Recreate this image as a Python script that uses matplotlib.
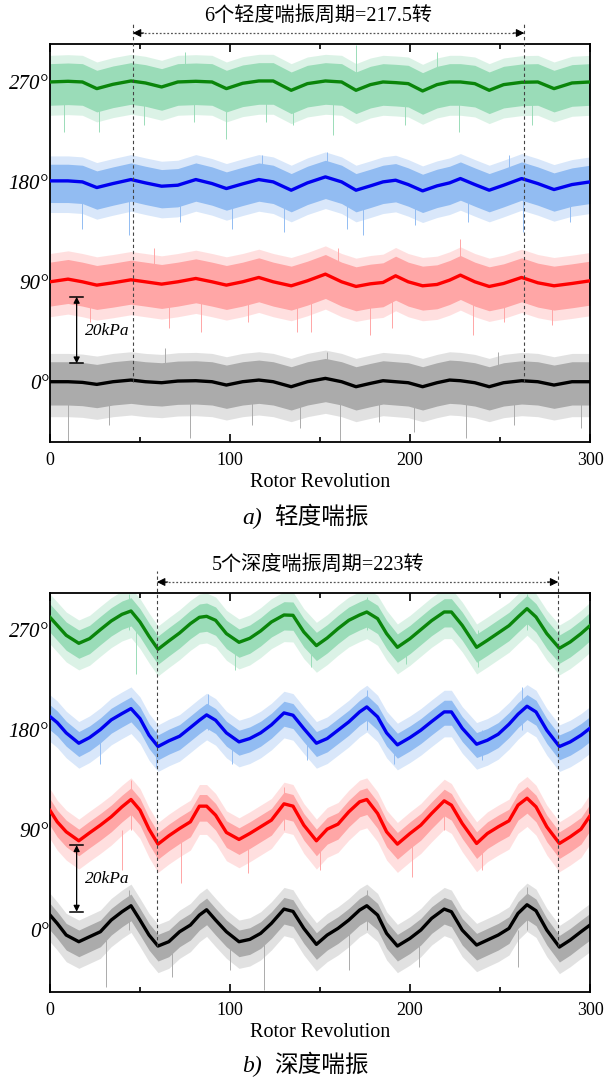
import matplotlib
matplotlib.use("Agg")
import numpy as np
import matplotlib.pyplot as plt

plt.rcParams['font.family'] = ['Liberation Serif', 'Noto Sans CJK SC']

# ---------------- data (kPa, relative to each channel offset) ----------------
labels = ["0°", "90°", "180°", "270°"]
offsets = [0, 30, 60, 90]
line_colors = ["#000000", "#ff0000", "#0000f0", "#0a850a"]
band_colors = ["#ababab", "#ffa6a6", "#92bcf2", "#9adcb8"]

# a) light surge: smoothed traces
a_rev = [0, 10, 18, 26, 35, 45, 53, 62, 71, 81, 90, 98, 107, 116, 124, 134, 143, 153,
         162, 170, 178, 185, 192, 199, 207, 215, 222, 228, 236, 244, 252, 262, 271, 280, 290, 300]
a_black = [0, 0, -0.2, -0.8, 0, 0.5, 0, -0.3, 0.2, 0.3, 0, -1.0, 0, 0.5, 0, -1.5, 0, 1.0,
           0, -1.5, -0.5, 0.3, 0, -0.3, -1.5, -0.3, 0.5, 0.3, -0.3, -1.5, -0.3, 0.3, 0, -1.0, 0, 0]
a_red = [0, 0.8, 0, -1.0, -0.3, 0.6, 0, -0.7, 0, 1.0, 0, -1.0, 0, 1.3, 0, -1.2, 0.3, 2.3,
         0, -1.4, -0.6, -0.2, 1.8, 0, -1.2, -0.8, 0.5, 2.0, 0, -1.4, -0.5, 1.3, -0.3, -1.2, -0.5, 0.3]
a_blue = [0.3, 0.3, 0, -1.7, -0.5, 0.7, -0.3, -1.3, -1.0, 0.7, -0.5, -2.0, -0.6, 0.7, 0, -2.5, -0.3, 1.5,
          0, -2.5, -1.2, 0, 0.5, -0.8, -2.7, -1.2, -0.3, 1.0, -0.8, -2.5, -1.0, 1.0, -0.5, -2.3, -0.8, 0]
a_green = [0, 0.2, 0, -2.0, -0.7, 0.3, -0.3, -1.5, 0, 0.2, 0, -2.0, -0.4, 0.3, 0.3, -2.5, -0.5, 0.3,
           0, -2.5, -0.8, 0, -0.2, -0.5, -2.7, -0.8, 0, 0, -0.5, -2.5, -0.8, -0.1, 0, -2.0, -0.3, 0]
# noise envelope (dense up, dense down, fringe up, fringe down)
a_env = [(6.0, 7.0, 8.5, 10.5), (5.9, 7.3, 8.5, 10.5), (5.0, 6.5, 7.5, 9.5), (5.5, 7.0, 8.0, 10.0)]
# isolated spikes (rev, tip) per channel
a_spikes = [
    [(10, -18), (33, -13), (78, -17), (112, -13), (139, -14), (161, -18), (183, -12), (202, -15),
     (231, -17), (258, -13), (295, -14), (64, 10), (154, 9), (249, 9)],
    [(22, -12), (66, -14), (84, -15), (110, -12), (137, -15), (145, -15), (178, -16), (190, -14),
     (235, -16), (252, -12), (279, -13), (58, 10), (228, 13), (160, 10)],
    [(18, -14), (44, -16), (72, -12), (101, -14), (130, -15), (165, -14), (174, -16), (203, -13),
     (232, -12), (263, -15), (289, -12), (154, 9), (118, 8), (255, 8)],
    [(8, -15), (27, -15), (52, -13), (80, -12), (98, -17), (120, -12), (135, -13), (157, -16),
     (197, -13), (227, -15), (268, -13), (75, 9), (170, 11), (215, 9)],
]
a_marks = [46, 263.5]

# b) deep surge: smoothed traces
b_rev = [0, 4, 9, 16, 22, 28, 34, 40, 45, 50, 55, 60, 66, 72, 78, 83, 87, 92, 98, 105,
         111, 117, 123, 130, 135, 141, 148, 154, 160, 166, 172, 176, 182, 187, 193,
         200, 206, 212, 219, 223, 229, 237, 243, 249, 255, 260, 265, 270, 276, 283, 289, 295, 300]
b_black = [4.5, 2.0, -1.5, -3.5, -2.0, -0.5, 3.0, 5.5, 7.3, 3.0, -1.5, -4.8, -3.5, -0.5, 1.5, 4.5, 6.1, 3.0, -0.5, -3.5,
           -2.8, -1.0, 2.0, 6.3, 5.6, 0.5, -4.3, -1.5, 0.5, 3.0, 6.0, 7.3, 4.5, -1.0, -4.8,
           -2.5, 0, 3.5, 6.3, 5.5, 0, -4.5, -3.0, -1.5, 0.5, 5.0, 7.6, 5.8, 0, -5.1, -3.0, -0.5, 1.5]
b_red = [5.9, 2.5, -0.5, -3.2, -0.8, 1.5, 4.0, 7.0, 9.2, 6.0, 0.3, -4.2, -1.7, 0.5, 2.5, 7.2, 7.2, 4.5, -0.7, -2.8,
         -1.0, 1.0, 3.0, 7.9, 7.2, 1.5, -3.2, 0.3, 1.8, 5.5, 8.5, 9.2, 5.0, -0.5, -4.2,
         -1.0, 1.5, 5.0, 8.8, 7.5, 2.0, -4.0, -1.0, 1.0, 2.8, 7.5, 9.6, 7.0, 1.0, -4.0, -2.0, 0.3, 4.3]
b_blue = [4.1, 2.3, -0.8, -3.9, -2.2, 0.2, 3.1, 5.0, 6.5, 3.5, -1.5, -4.9, -3.2, -1.8, 0.8, 3.0, 4.6, 3.0, -0.8, -3.5,
          -2.5, -0.8, 1.6, 5.2, 4.5, 0.5, -3.9, -2.5, 0, 2.5, 5.5, 7.0, 4.0, -0.8, -4.4,
          -2.2, 0, 2.6, 5.5, 5.5, 0.6, -4.2, -3.0, -1.2, 1.8, 4.8, 7.2, 5.5, 0, -4.9, -3.5, -1.5, 0.6]
b_green = [3.9, 1.5, -1.5, -3.9, -2.5, 0.2, 2.8, 4.8, 5.8, 2.5, -1.8, -5.7, -3.2, -0.8, 2.0, 3.9, 4.2, 3.0, -1.0, -3.6,
           -2.4, -0.2, 2.5, 4.6, 4.5, -0.5, -4.6, -2.3, 0.5, 3.0, 4.6, 5.5, 3.5, -1.0, -5.1,
           -2.5, 0.2, 2.9, 5.5, 5.5, 1.5, -5.1, -3.0, -0.8, 1.4, 4.0, 6.5, 4.0, -1.0, -5.4, -3.5, -1.0, 1.4]
b_env = [(3.5, 4.5, 6.5, 8.0), (3.5, 4.5, 6.5, 8.5), (3.5, 4.0, 6.5, 7.5), (4.0, 4.5, 7.0, 8.0)]
b_spikes = [
    [(31, -17), (68, -14), (100, -12), (119, -18), (166, -12), (205, -11), (260, -11), (44, 12), (176, 12), (265, 13)],
    [(40, -12), (73, -16), (110, -13), (150, -12), (201, -14), (240, -12), (45, 15), (130, 13), (219, 12)],
    [(28, -10), (59, -11), (101, -10), (143, -9), (191, -10), (240, -9), (88, 11), (176, 12), (262, 13)],
    [(48, -13), (103, -12), (145, -11), (198, -10), (238, -11), (283, -10), (44, 11), (176, 10), (265, 11)],
]
b_marks = [59.4, 282.4]

xticks_major = [0, 100, 200, 300]
xticks_minor = [50, 150, 250]


def draw_panel(ax, rev, traces, env, spikes, marks, ylim, mark_bottom, note):
    rev = np.asarray(rev)
    for i, tr in enumerate(traces):
        y = np.asarray(tr) + offsets[i]
        du, dd, fu, fd = env[i]
        ax.fill_between(rev, y - fd, y + fu, color=band_colors[i], alpha=0.35, lw=0, zorder=1)
        ax.fill_between(rev, y - dd, y + du, color=band_colors[i], lw=0, zorder=2)
        for sx, sy in spikes[i]:
            ax.vlines(sx, offsets[i], offsets[i] + sy, color=band_colors[i], lw=0.7, zorder=1)
        ax.plot(rev, y, color=line_colors[i], lw=2.4, zorder=4)

    ax.set_xlim(0, 300)
    ax.set_ylim(*ylim)
    ax.set_xticks(xticks_major)
    ax.set_xticks(xticks_minor, minor=True)
    ax.set_yticks(offsets)
    ax.set_yticklabels(labels, fontstyle='italic', fontsize=15)
    ax.tick_params(axis='y', length=0, pad=1)
    ax.tick_params(axis='x', which='both', direction='in', top=True, labelsize=13, pad=7, width=1.2)
    ax.tick_params(axis='x', which='major', length=6)
    ax.tick_params(axis='x', which='minor', length=3.5)
    for s in ax.spines.values():
        s.set_linewidth(1.3)
    ax.set_xlabel("Rotor Revolution", fontsize=14.5, labelpad=3)

    # surge period markers
    top = ylim[1] + 6.5
    for m in marks:
        ax.plot([m, m], [mark_bottom, top], ls=(0, (3, 2.5)), color='#444444', lw=0.8,
                clip_on=False, zorder=5)
    ya = ylim[1] + 3.3
    ax.plot(marks, [ya, ya], ls=(0, (1.5, 1.5)), color='#555555', lw=0.9, clip_on=False)
    for a, b in [(marks[0] + 6, marks[0]), (marks[1] - 6, marks[1])]:
        ax.annotate('', xy=(b, ya), xytext=(a, ya), xycoords='data',
                    arrowprops=dict(arrowstyle='-|>', color='black', lw=0.8, mutation_scale=12,
                                    shrinkA=0, shrinkB=0), annotation_clip=False)
    ax.text(149, ylim[1] + 8.3, note, ha='center', va='center', fontsize=14.5, clip_on=False)

    # 20 kPa scale bar
    bx = 14.8
    y0, y1 = 5.5, 25.5
    ax.annotate('', xy=(bx, y1), xytext=(bx, y0),
                arrowprops=dict(arrowstyle='<|-|>', color='black', lw=0.9, mutation_scale=9,
                                shrinkA=0, shrinkB=0))
    for yy in (y0, y1):
        ax.plot([bx - 3.6, bx + 3.6], [yy, yy], color='black', lw=1.1)
    ax.text(19.5, 15.3, "20kPa", fontstyle='italic', fontsize=12.5, ha='left', va='center')


fig = plt.figure(figsize=(6.04, 10.77), dpi=100)
ax_a = fig.add_axes([50 / 604, 1 - 442 / 1077, 540 / 604, 398 / 1077])
ax_b = fig.add_axes([50 / 604, 1 - 992 / 1077, 540 / 604, 399 / 1077])

draw_panel(ax_a, a_rev, [a_black, a_red, a_blue, a_green], a_env, a_spikes, a_marks,
           (-18.1, 101.4), 0, "6个轻度喘振周期=217.5转")
draw_panel(ax_b, b_rev, [b_black, b_red, b_blue, b_green], b_env, b_spikes, b_marks,
           (-18.6, 101.2), -4.8, "5个深度喘振周期=223转")

# captions
fig.text(252 / 604, 1 - 518 / 1077, "a)", fontstyle='italic', fontsize=17, ha='center', va='center')
fig.text(321 / 604, 1 - 518 / 1077, "轻度喘振", fontsize=17, ha='center', va='center')
fig.text(252 / 604, 1 - 1066 / 1077, "b)", fontstyle='italic', fontsize=17, ha='center', va='center')
fig.text(321 / 604, 1 - 1066 / 1077, "深度喘振", fontsize=17, ha='center', va='center')

fig.savefig("out.png", dpi=100)
